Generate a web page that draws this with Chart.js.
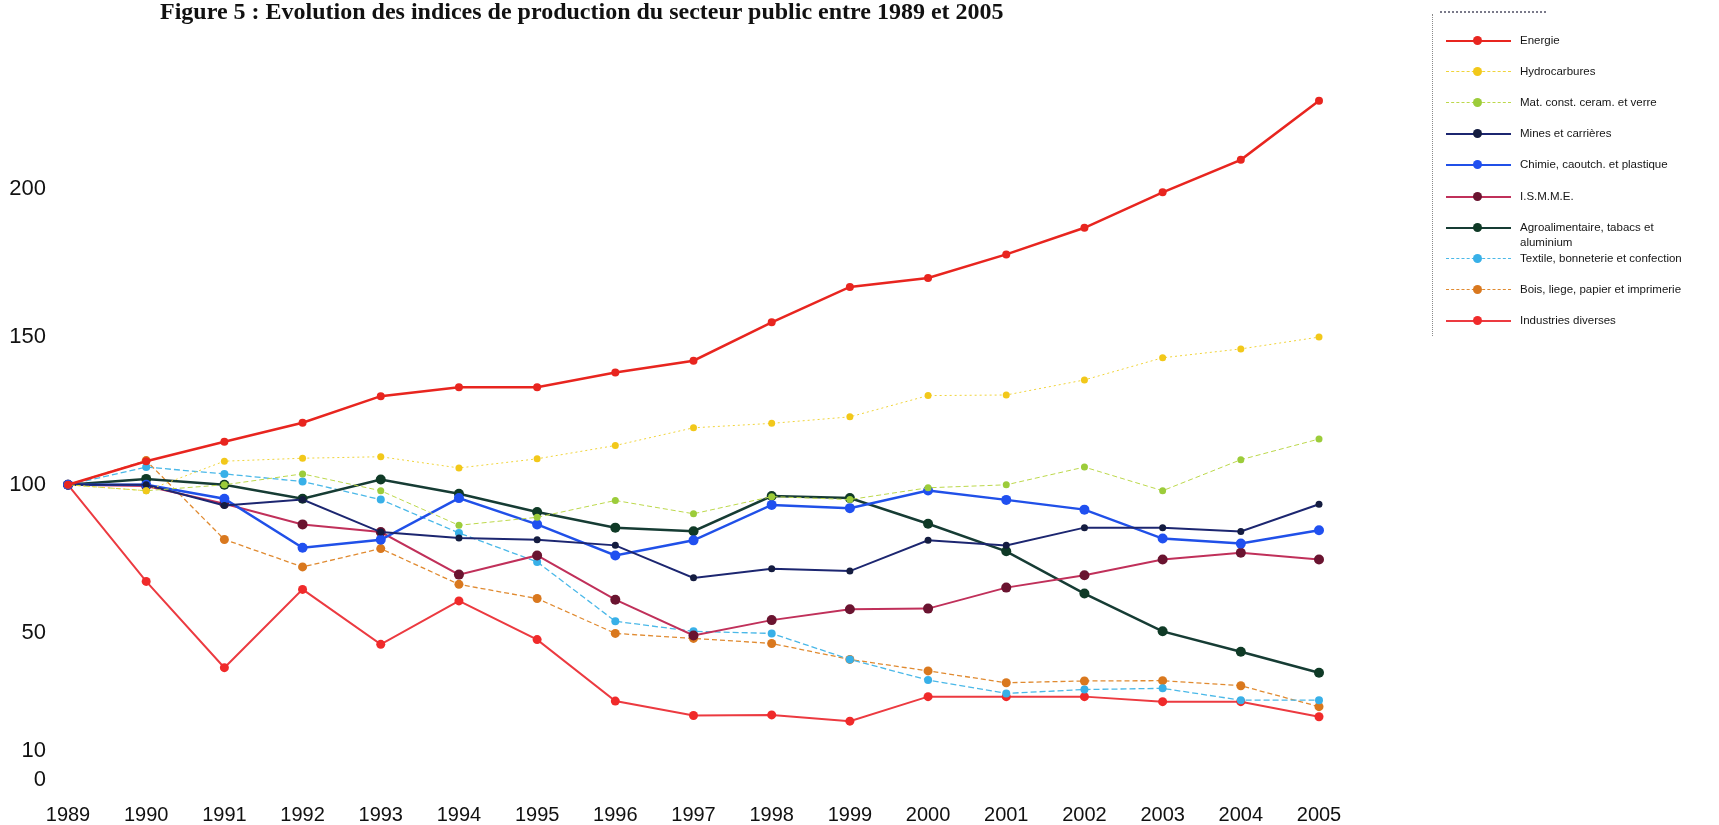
<!DOCTYPE html>
<html>
<head>
<meta charset="utf-8">
<script src="https://cdn.jsdelivr.net/npm/chart.js@4"></script>
<style>
  html, body { margin: 0; padding: 0; background: #fff; }
  #wrap { position: relative; width: 1719px; height: 825px; overflow: hidden; }
  #titre { position: absolute; left: 160px; top: -2px; font: bold 24px 'Liberation Serif', 'Times New Roman', serif; color: #111; white-space: nowrap; }
  #legende { position: absolute; left: 1432px; top: 14px; width: 287px; height: 322px; border-left: 1px dotted #8a8a8a; }
  #legendeHaut { position: absolute; left: 1440px; top: 11px; width: 106px; border-top: 2px dotted #7a7a8a; }
  .item { position: absolute; left: 0; height: 30px; width: 287px; }
  .trait { position: absolute; left: 13px; top: 7px; width: 65px; height: 0; }
  .point { position: absolute; left: 40px; top: 3px; width: 9px; height: 9px; border-radius: 50%; }
  .txt { position: absolute; left: 87px; top: 0; font: 11.5px 'Liberation Sans', Arial, sans-serif; color: #151515; line-height: 15px; white-space: pre; }
</style>
</head>
<body>
<div id="wrap">
  <canvas id="graphique" width="1719" height="825"></canvas>
  <div id="titre">Figure 5 : Evolution des indices de production du secteur public entre 1989 et 2005</div>
  <div id="legendeHaut"></div>
  <div id="legende"></div>
</div>
<script>
// Données (indice base 100 en 1989)
const annees = ['1989', '1990', '1991', '1992', '1993', '1994', '1995', '1996', '1997',
                '1998', '1999', '2000', '2001', '2002', '2003', '2004', '2005'];

const energie       = [100, 108, 114.6, 121, 130, 133, 133, 138, 142, 155, 167, 170, 178, 187, 199, 210, 230];
const hydrocarbures = [100, 98, 108, 109, 109.5, 105.7, 108.8, 113.3, 119.3, 120.8, 123, 130.2, 130.4, 135.5, 143, 146, 150];
const matConst      = [100, 98, 100, 103.7, 98, 86.3, 89, 94.7, 90.2, 96, 95, 99, 100, 106, 98, 108.5, 115.5];
const mines         = [100, 100, 93, 95, 84, 82, 81.4, 79.5, 68.5, 71.6, 70.8, 81.2, 79.5, 85.5, 85.5, 84.2, 93.4];
const chimie        = [100, 100, 95.3, 78.7, 81.4, 95.5, 86.6, 76.1, 81.2, 93.2, 92.1, 98.1, 94.9, 91.6, 81.8, 80.1, 84.6];
const ismme         = [100, 99.6, 93.6, 86.6, 84, 69.6, 76.1, 61.1, 49, 54.2, 57.9, 58.1, 65.2, 69.4, 74.7, 77, 74.7];
const agro          = [100, 102, 100, 95.3, 101.8, 97, 90.8, 85.5, 84.3, 96.2, 95.5, 86.8, 77.5, 63.2, 50.4, 43.5, 36.4];
const textile       = [100, 106, 103.7, 101.1, 95, 83.7, 73.9, 53.8, 50.4, 49.7, 40.9, 33.9, 29.4, 30.7, 31.1, 27.1, 27.1];
const bois          = [100, 108.2, 81.5, 72.2, 78.4, 66.3, 61.5, 49.7, 48, 46.3, 40.9, 37, 33, 33.6, 33.7, 32, 24.9];
const industries    = [100, 67.3, 38.1, 64.6, 46, 60.7, 47.6, 26.8, 21.9, 22.1, 20, 28.3, 28.3, 28.3, 26.6, 26.6, 21.5];

const yTicks = [0, 10, 50, 100, 150, 200];

// Séries : libellé, données, couleur du trait, couleur des points, style
const series = [
    { label: 'Energie', data: energie, ligne: '#e8251f', point: '#e8251f', largeur: 2.5, tirets: [], rayon: 4 },
    { label: 'Hydrocarbures', data: hydrocarbures, ligne: '#f0d43a', point: '#f2c81a', largeur: 1, tirets: [2, 3], rayon: 3.5 },
    { label: 'Mat. const. ceram. et verre', data: matConst, ligne: '#bcd84a', point: '#9ccc3a', largeur: 1, tirets: [5, 3], rayon: 3.5 },
    { label: 'Mines et carrières', data: mines, ligne: '#1c2670', point: '#141c40', largeur: 2, tirets: [], rayon: 3.5 },
    { label: 'Chimie, caoutch. et plastique', data: chimie, ligne: '#2050e8', point: '#2050f0', largeur: 2.5, tirets: [], rayon: 5 },
    { label: 'I.S.M.M.E.', data: ismme, ligne: '#c0305a', point: '#6a1430', largeur: 2, tirets: [], rayon: 5 },
    { label: 'Agroalimentaire, tabacs et\naluminium', data: agro, ligne: '#163c34', point: '#0f3a26', largeur: 2.5, tirets: [], rayon: 5 },
    { label: 'Textile, bonneterie et confection', data: textile, ligne: '#4ab8e8', point: '#38b0e8', largeur: 1.3, tirets: [6, 3], rayon: 4 },
    { label: 'Bois, liege, papier et imprimerie', data: bois, ligne: '#e08a30', point: '#d9781e', largeur: 1.3, tirets: [5, 3], rayon: 4.5 },
    { label: 'Industries diverses', data: industries, ligne: '#ec3a40', point: '#f02a2a', largeur: 2, tirets: [], rayon: 4.5 }
];

const ctx = document.getElementById('graphique').getContext('2d');

const chart = new Chart(ctx, {
    type: 'line',
    data: {
        labels: annees,
        datasets: series.map(s => ({
            label: s.label,
            data: s.data,
            borderColor: s.ligne,
            backgroundColor: s.point,
            pointBackgroundColor: s.point,
            pointBorderColor: s.point,
            pointRadius: s.rayon,
            pointBorderWidth: 0,
            borderWidth: s.largeur,
            borderDash: s.tirets,
            fill: false,
            tension: 0,
            clip: false
        }))
    },
    options: {
        responsive: false,
        animation: false,
        layout: { padding: { top: 86, right: 400, left: 0, bottom: 0 } },
        plugins: {
            legend: { display: false },
            title: { display: false },
            tooltip: { enabled: false }
        },
        scales: {
            x: {
                type: 'category',
                offset: false,
                grid: { display: false },
                border: { display: false },
                ticks: {
                    color: '#111',
                    font: { family: "'Liberation Sans', Arial, sans-serif", size: 20 },
                    padding: 0,
                    maxRotation: 0,
                    autoSkip: false
                },
                afterFit: function(scale) { scale.height = 30; }
            },
            y: {
                min: -5,
                max: 235,
                grid: { display: false },
                border: { display: false },
                afterBuildTicks: function(scale) {
                    scale.ticks = yTicks.map(v => ({ value: v }));
                },
                ticks: {
                    color: '#111',
                    font: { family: "'Liberation Sans', Arial, sans-serif", size: 22 },
                    padding: 14
                },
                afterFit: function(scale) { scale.width = 68; }
            }
        }
    }
});

// Légende à droite, construite depuis les séries
const legende = document.getElementById('legende');
series.forEach((s, i) => {
    const item = document.createElement('div');
    item.className = 'item';
    item.style.top = (19 + i * 31.1) + 'px';
    const trait = document.createElement('div');
    trait.className = 'trait';
    trait.style.borderTop = Math.max(1.5, s.largeur) + 'px ' + (s.tirets.length ? 'dashed ' : 'solid ') + s.ligne;
    const pt = document.createElement('div');
    pt.className = 'point';
    pt.style.background = s.point;
    const txt = document.createElement('div');
    txt.className = 'txt';
    txt.textContent = s.label;
    item.appendChild(trait);
    item.appendChild(pt);
    item.appendChild(txt);
    legende.appendChild(item);
});
</script>
</body>
</html>
